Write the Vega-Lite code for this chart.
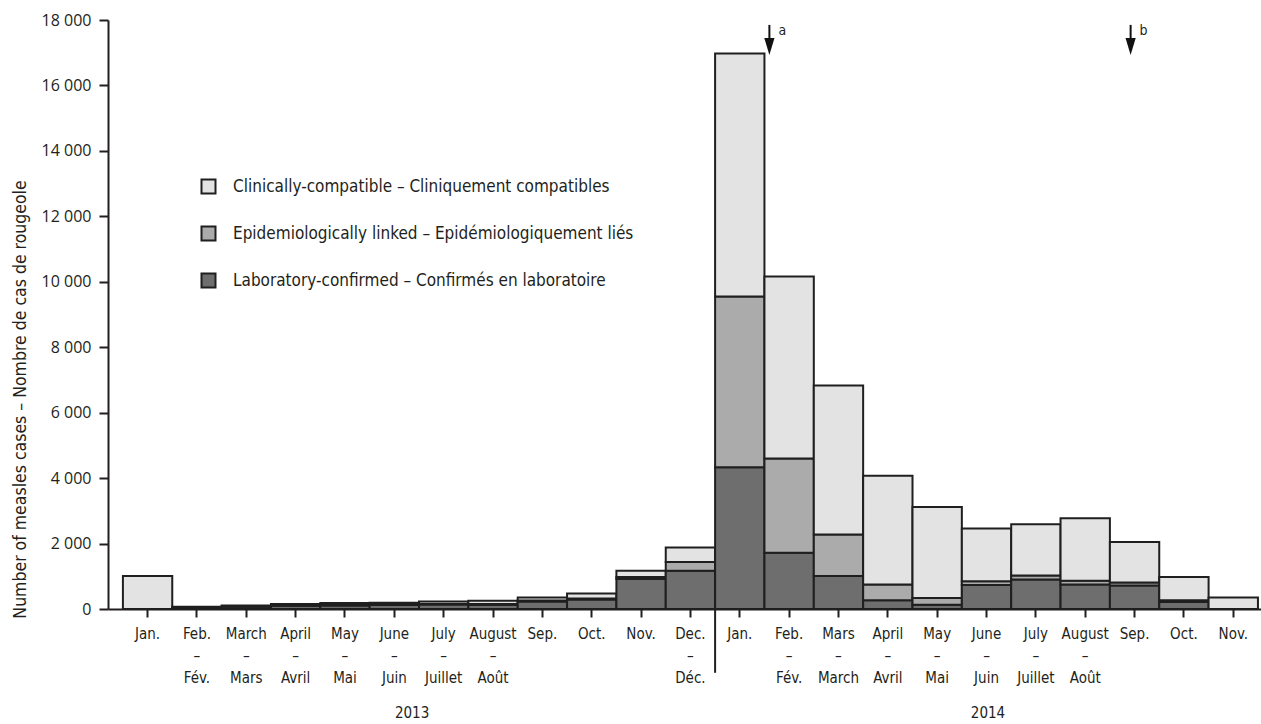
{
  "$schema": "https://vega.github.io/schema/vega-lite/v6.json",
  "width": 1153,
  "height": 589,
  "autosize": {"type": "none"},
  "padding": {"left": 108, "top": 20, "right": 0, "bottom": 115},
  "background": "white",
  "config": {
    "view": {"stroke": null},
    "font": "'DejaVu Sans Condensed', Roboto, sans-serif",
    "axis": {"labelColor": "#231f20", "titleColor": "#231f20", "domainColor": "#231f20", "tickColor": "#231f20", "grid": false}
  },
  "datasets": {
    "cases": [
      {"month": "2013|Jan.", "category": "Clinically-compatible – Cliniquement compatibles", "cases": 1010},
      {"month": "2013|Feb.|–|Fév.", "category": "Laboratory-confirmed – Confirmés en laboratoire", "cases": 50},
      {"month": "2013|Feb.|–|Fév.", "category": "Clinically-compatible – Cliniquement compatibles", "cases": 20},
      {"month": "2013|March|–|Mars", "category": "Laboratory-confirmed – Confirmés en laboratoire", "cases": 70},
      {"month": "2013|March|–|Mars", "category": "Clinically-compatible – Cliniquement compatibles", "cases": 40},
      {"month": "2013|April|–|Avril", "category": "Laboratory-confirmed – Confirmés en laboratoire", "cases": 100},
      {"month": "2013|April|–|Avril", "category": "Clinically-compatible – Cliniquement compatibles", "cases": 50},
      {"month": "2013|May|–|Mai", "category": "Laboratory-confirmed – Confirmés en laboratoire", "cases": 110},
      {"month": "2013|May|–|Mai", "category": "Epidemiologically linked – Epidémiologiquement liés", "cases": 10},
      {"month": "2013|May|–|Mai", "category": "Clinically-compatible – Cliniquement compatibles", "cases": 60},
      {"month": "2013|June|–|Juin", "category": "Laboratory-confirmed – Confirmés en laboratoire", "cases": 120},
      {"month": "2013|June|–|Juin", "category": "Epidemiologically linked – Epidémiologiquement liés", "cases": 10},
      {"month": "2013|June|–|Juin", "category": "Clinically-compatible – Cliniquement compatibles", "cases": 60},
      {"month": "2013|July|–|Juillet", "category": "Laboratory-confirmed – Confirmés en laboratoire", "cases": 140},
      {"month": "2013|July|–|Juillet", "category": "Epidemiologically linked – Epidémiologiquement liés", "cases": 10},
      {"month": "2013|July|–|Juillet", "category": "Clinically-compatible – Cliniquement compatibles", "cases": 80},
      {"month": "2013|August|–|Août", "category": "Laboratory-confirmed – Confirmés en laboratoire", "cases": 130},
      {"month": "2013|August|–|Août", "category": "Epidemiologically linked – Epidémiologiquement liés", "cases": 20},
      {"month": "2013|August|–|Août", "category": "Clinically-compatible – Cliniquement compatibles", "cases": 100},
      {"month": "2013|Sep.", "category": "Laboratory-confirmed – Confirmés en laboratoire", "cases": 230},
      {"month": "2013|Sep.", "category": "Epidemiologically linked – Epidémiologiquement liés", "cases": 30},
      {"month": "2013|Sep.", "category": "Clinically-compatible – Cliniquement compatibles", "cases": 90},
      {"month": "2013|Oct.", "category": "Laboratory-confirmed – Confirmés en laboratoire", "cases": 290},
      {"month": "2013|Oct.", "category": "Epidemiologically linked – Epidémiologiquement liés", "cases": 30},
      {"month": "2013|Oct.", "category": "Clinically-compatible – Cliniquement compatibles", "cases": 150},
      {"month": "2013|Nov.", "category": "Laboratory-confirmed – Confirmés en laboratoire", "cases": 920},
      {"month": "2013|Nov.", "category": "Epidemiologically linked – Epidémiologiquement liés", "cases": 60},
      {"month": "2013|Nov.", "category": "Clinically-compatible – Cliniquement compatibles", "cases": 190},
      {"month": "2013|Dec.|–|Déc.", "category": "Laboratory-confirmed – Confirmés en laboratoire", "cases": 1170},
      {"month": "2013|Dec.|–|Déc.", "category": "Epidemiologically linked – Epidémiologiquement liés", "cases": 270},
      {"month": "2013|Dec.|–|Déc.", "category": "Clinically-compatible – Cliniquement compatibles", "cases": 440},
      {"month": "2014|Jan.", "category": "Laboratory-confirmed – Confirmés en laboratoire", "cases": 4330},
      {"month": "2014|Jan.", "category": "Epidemiologically linked – Epidémiologiquement liés", "cases": 5220},
      {"month": "2014|Jan.", "category": "Clinically-compatible – Cliniquement compatibles", "cases": 7430},
      {"month": "2014|Feb.|–|Fév.", "category": "Laboratory-confirmed – Confirmés en laboratoire", "cases": 1720},
      {"month": "2014|Feb.|–|Fév.", "category": "Epidemiologically linked – Epidémiologiquement liés", "cases": 2880},
      {"month": "2014|Feb.|–|Fév.", "category": "Clinically-compatible – Cliniquement compatibles", "cases": 5560},
      {"month": "2014|Mars|–|March", "category": "Laboratory-confirmed – Confirmés en laboratoire", "cases": 1005},
      {"month": "2014|Mars|–|March", "category": "Epidemiologically linked – Epidémiologiquement liés", "cases": 1275},
      {"month": "2014|Mars|–|March", "category": "Clinically-compatible – Cliniquement compatibles", "cases": 4550},
      {"month": "2014|April|–|Avril", "category": "Laboratory-confirmed – Confirmés en laboratoire", "cases": 265},
      {"month": "2014|April|–|Avril", "category": "Epidemiologically linked – Epidémiologiquement liés", "cases": 485},
      {"month": "2014|April|–|Avril", "category": "Clinically-compatible – Cliniquement compatibles", "cases": 3320},
      {"month": "2014|May|–|Mai", "category": "Laboratory-confirmed – Confirmés en laboratoire", "cases": 130},
      {"month": "2014|May|–|Mai", "category": "Epidemiologically linked – Epidémiologiquement liés", "cases": 205},
      {"month": "2014|May|–|Mai", "category": "Clinically-compatible – Cliniquement compatibles", "cases": 2785},
      {"month": "2014|June|–|Juin", "category": "Laboratory-confirmed – Confirmés en laboratoire", "cases": 730},
      {"month": "2014|June|–|Juin", "category": "Epidemiologically linked – Epidémiologiquement liés", "cases": 120},
      {"month": "2014|June|–|Juin", "category": "Clinically-compatible – Cliniquement compatibles", "cases": 1610},
      {"month": "2014|July|–|Juillet", "category": "Laboratory-confirmed – Confirmés en laboratoire", "cases": 900},
      {"month": "2014|July|–|Juillet", "category": "Epidemiologically linked – Epidémiologiquement liés", "cases": 120},
      {"month": "2014|July|–|Juillet", "category": "Clinically-compatible – Cliniquement compatibles", "cases": 1570},
      {"month": "2014|August|–|Août", "category": "Laboratory-confirmed – Confirmés en laboratoire", "cases": 750},
      {"month": "2014|August|–|Août", "category": "Epidemiologically linked – Epidémiologiquement liés", "cases": 110},
      {"month": "2014|August|–|Août", "category": "Clinically-compatible – Cliniquement compatibles", "cases": 1915},
      {"month": "2014|Sep.", "category": "Laboratory-confirmed – Confirmés en laboratoire", "cases": 720},
      {"month": "2014|Sep.", "category": "Epidemiologically linked – Epidémiologiquement liés", "cases": 90},
      {"month": "2014|Sep.", "category": "Clinically-compatible – Cliniquement compatibles", "cases": 1240},
      {"month": "2014|Oct.", "category": "Laboratory-confirmed – Confirmés en laboratoire", "cases": 215},
      {"month": "2014|Oct.", "category": "Epidemiologically linked – Epidémiologiquement liés", "cases": 50},
      {"month": "2014|Oct.", "category": "Clinically-compatible – Cliniquement compatibles", "cases": 710},
      {"month": "2014|Nov.", "category": "Clinically-compatible – Cliniquement compatibles", "cases": 355}
    ]
  },
  "layer": [
    {
      "data": {"name": "cases"},
      "mark": {"type": "bar", "stroke": "#1f1f1f", "strokeWidth": 2, "strokeJoin": "miter"},
      "encoding": {
        "x": {
          "field": "month", "type": "nominal",
          "scale": {
            "domain": ["2013|Jan.", "2013|Feb.|–|Fév.", "2013|March|–|Mars", "2013|April|–|Avril", "2013|May|–|Mai", "2013|June|–|Juin", "2013|July|–|Juillet", "2013|August|–|Août", "2013|Sep.", "2013|Oct.", "2013|Nov.", "2013|Dec.|–|Déc.", "2014|Jan.", "2014|Feb.|–|Fév.", "2014|Mars|–|March", "2014|April|–|Avril", "2014|May|–|Mai", "2014|June|–|Juin", "2014|July|–|Juillet", "2014|August|–|Août", "2014|Sep.", "2014|Oct.", "2014|Nov."],
            "paddingInner": 0, "paddingOuter": 0.182, "align": 0.83
          },
          "axis": {
            "title": null, "labelAngle": 0, "labelExpr": "slice(split(datum.value, '|'), 1)",
            "labelFontSize": 15, "labelLineHeight": 22, "labelPadding": 9, "labelOverlap": false, "labelBound": false,
            "tickSize": 8, "tickWidth": 2, "domainWidth": 2
          }
        },
        "y": {
          "field": "cases", "type": "quantitative", "stack": "zero",
          "scale": {"domain": [0, 18000], "nice": false},
          "axis": {
            "title": "Number of measles cases – Nombre de cas de rougeole",
            "values": [0, 2000, 4000, 6000, 8000, 10000, 12000, 14000, 16000, 18000],
            "labelExpr": "replace(format(datum.value, ','), ',', ' ')",
            "labelFont": "Open Sans", "labelFontSize": 16, "labelPadding": 8,
            "tickSize": 9, "tickWidth": 2, "domainWidth": 2,
            "titleFontSize": 17.5, "titleFontWeight": "normal",
            "titleY": 379, "titleX": -88, "titleAlign": "center", "titleBaseline": "middle", "titleAngle": -90
          }
        },
        "color": {
          "field": "category", "type": "nominal",
          "scale": {
            "domain": ["Clinically-compatible – Cliniquement compatibles", "Epidemiologically linked – Epidémiologiquement liés", "Laboratory-confirmed – Confirmés en laboratoire"],
            "range": ["#e3e3e3", "#ababab", "#6e6e6e"]
          },
          "legend": {
            "title": null, "orient": "none", "legendX": 92, "legendY": 158, "padding": 0,
            "symbolType": "square", "symbolSize": 196, "symbolStrokeColor": "#1f1f1f", "symbolStrokeWidth": 2, "symbolOpacity": 1,
            "labelFontSize": 17, "labelColor": "#231f20", "labelOffset": 16, "rowPadding": 24, "labelLimit": 600
          }
        },
        "order": {"field": "category", "sort": "descending"}
      }
    },
    {
      "mark": {"type": "rule", "color": "#231f20", "strokeWidth": 2},
      "encoding": {"y": {"datum": 18000}}
    },
    {
      "data": {"values": [{"month": "2014|Jan."}]},
      "mark": {"type": "rule", "color": "#231f20", "strokeWidth": 2},
      "encoding": {
        "x": {"field": "month", "type": "nominal", "bandPosition": 0},
        "y": {"datum": 0},
        "y2": {"datum": -1950}
      }
    },
    {
      "data": {"values": [{"month": "2013|June|–|Juin", "year": "2013"}]},
      "mark": {"type": "text", "fontSize": 15, "color": "#231f20", "baseline": "middle", "dy": 104},
      "encoding": {
        "x": {"field": "month", "type": "nominal", "bandPosition": 0.86},
        "y": {"datum": 0},
        "text": {"field": "year"}
      }
    },
    {
      "data": {"values": [{"month": "2014|June|–|Juin", "year": "2014"}]},
      "mark": {"type": "text", "fontSize": 15, "color": "#231f20", "baseline": "middle", "dy": 104},
      "encoding": {
        "x": {"field": "month", "type": "nominal", "bandPosition": 0.53},
        "y": {"datum": 0},
        "text": {"field": "year"}
      }
    },
    {
      "data": {"values": [{"month": "2014|Feb.|–|Fév.", "note": "a"}]},
      "layer": [
        {"mark": {"type": "rule", "color": "#111111", "strokeWidth": 2}, "encoding": {"x": {"field": "month", "type": "nominal", "bandPosition": 0.1}, "y": {"datum": 17850}, "y2": {"datum": 17300}}},
        {"mark": {"type": "point", "shape": "M -0.6 -1 L 0.6 -1 L 0 1 Z", "size": 289, "filled": true, "color": "#111111", "opacity": 1}, "encoding": {"x": {"field": "month", "type": "nominal", "bandPosition": 0.1}, "y": {"datum": 17190}}},
        {"mark": {"type": "text", "fontSize": 14, "color": "#231f20", "align": "left", "baseline": "middle", "dx": 9}, "encoding": {"x": {"field": "month", "type": "nominal", "bandPosition": 0.1}, "y": {"datum": 17650}, "text": {"field": "note"}}}
      ]
    },
    {
      "data": {"values": [{"month": "2014|Sep.", "note": "b"}]},
      "layer": [
        {"mark": {"type": "rule", "color": "#111111", "strokeWidth": 2}, "encoding": {"x": {"field": "month", "type": "nominal", "bandPosition": 0.42}, "y": {"datum": 17850}, "y2": {"datum": 17300}}},
        {"mark": {"type": "point", "shape": "M -0.6 -1 L 0.6 -1 L 0 1 Z", "size": 289, "filled": true, "color": "#111111", "opacity": 1}, "encoding": {"x": {"field": "month", "type": "nominal", "bandPosition": 0.42}, "y": {"datum": 17190}}},
        {"mark": {"type": "text", "fontSize": 14, "color": "#231f20", "align": "left", "baseline": "middle", "dx": 9}, "encoding": {"x": {"field": "month", "type": "nominal", "bandPosition": 0.42}, "y": {"datum": 17650}, "text": {"field": "note"}}}
      ]
    }
  ]
}
